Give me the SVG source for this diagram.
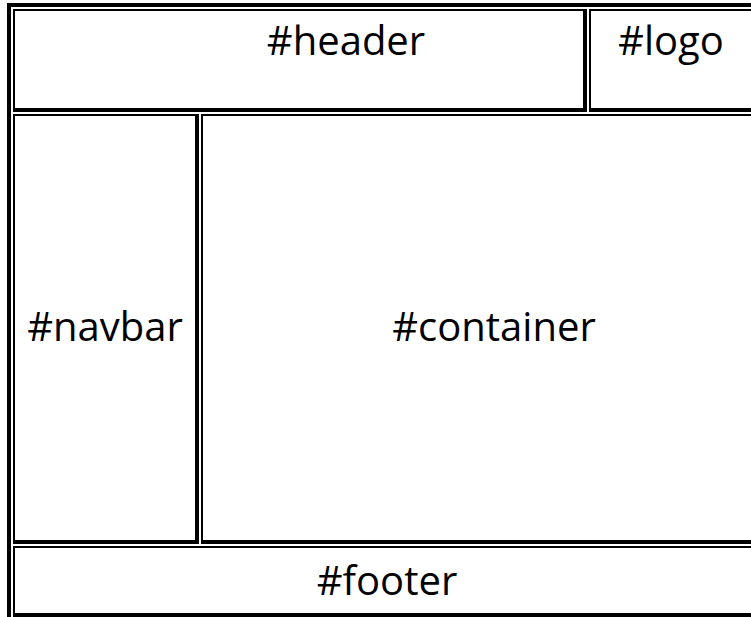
<svg xmlns="http://www.w3.org/2000/svg" width="751" height="617" viewBox="0 0 751 617">
<style>
.b{fill:#000}
.t{font-family:"Open Sans","Liberation Sans",sans-serif;font-size:40px;fill:#000;text-anchor:middle}
</style>
<rect width="751" height="617" fill="#fff"/>
<g id="table">
<rect class="b" x="7" y="3" width="4" height="614"/>
<rect class="b" x="7" y="3" width="744" height="4"/>
</g>
<g id="header">
<path d="M13 9H587V112H13Z M15 11V108H583V11Z" class="b" fill-rule="evenodd"/>
<text class="t" x="346" y="55">#header</text>
</g>
<g id="logo">
<path d="M589 9H751V112H589Z M591 11V108H751V11Z" class="b" fill-rule="evenodd"/>
<text class="t" x="671" y="55">#logo</text>
</g>
<g id="navbar">
<path d="M13 114H199V544H13Z M15 116V540H195V116Z" class="b" fill-rule="evenodd"/>
<text class="t" x="105" y="341">#navbar</text>
</g>
<g id="container">
<path d="M201 114H751V544H201Z M203 116V540H751V116Z" class="b" fill-rule="evenodd"/>
<text class="t" x="494" y="341">#container</text>
</g>
<g id="footer">
<path d="M13 546H751V617H13Z M15 548V613H751V548Z" class="b" fill-rule="evenodd"/>
<text class="t" x="387" y="595">#footer</text>
</g>
<g id="connectors"/>
</svg>
